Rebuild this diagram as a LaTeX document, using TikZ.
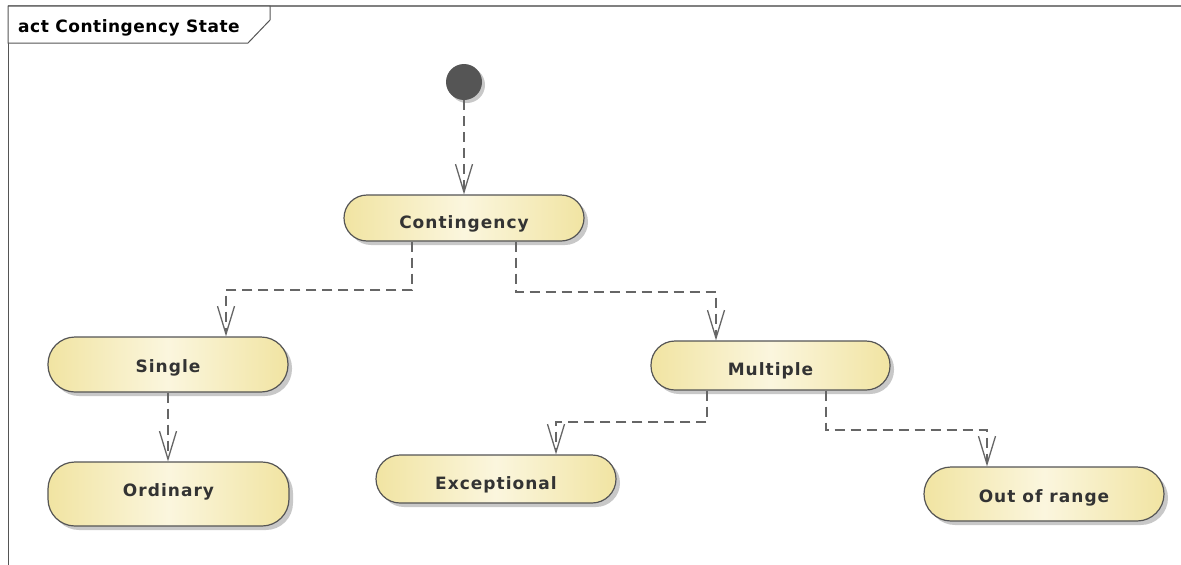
\documentclass[tikz,border=0pt]{standalone}
\usepackage{fontspec}
\setmainfont{DejaVu Sans}
\newfontfamily\lblfont{DejaVu Sans}[LetterSpace=6]
\newfontfamily\ttlfont{DejaVu Sans}[LetterSpace=3]
\usetikzlibrary{arrows.meta,calc}
\definecolor{edge}{HTML}{555555}
\definecolor{conncol}{HTML}{666666}
\definecolor{yedge}{HTML}{F1E4A2}
\definecolor{ymid}{HTML}{FBF6DE}
\definecolor{txt}{HTML}{333333}
\definecolor{shadowcol}{HTML}{C8C8C8}
\tikzset{
  state/.style={draw=edge, line width=1.2pt, rounded corners=23pt, inner sep=0pt,
    left color=yedge, right color=yedge, middle color=ymid,
    font=\lblfont\bfseries\fontsize{17}{19}\selectfont, text=txt,
    text height=12.4pt, text depth=0pt},
  conn/.style={draw=conncol, line width=1.3pt, dash pattern=on 10pt off 6pt,
    -{Straight Barb[length=28pt,width=17pt,line width=1.3pt]}},
}
\newcommand{\lowered}[2]{\raisebox{-#1pt}{#2}}
\newcommand{\shadowbox}[5]{% cx cy w h r
  \fill[shadowcol, rounded corners=#5] (#1-#3/2+4,#2-#4/2+4) rectangle (#1+#3/2+4,#2+#4/2+4);}
\begin{document}
\begin{tikzpicture}[x=1pt,y=-1pt]
\useasboundingbox (0,0) rectangle (1181,565);
\fill[white] (0,0) rectangle (1181,565);
% frame
\draw[color=gray, line width=1.6pt] (8,6) -- (1181,6);
\draw[color=edge, line width=1pt] (8,6) -- (8,565);
\draw[color=edge, line width=1pt, fill=white] (8,6) -- (270,6) -- (270,20) -- (248,43) -- (8,43) -- cycle;
\node[anchor=base west, inner sep=0pt, font=\ttlfont\bfseries\fontsize{17}{19}\selectfont, text=black] (title) at (18,32.5) {act Contingency State};
% shadows
\fill[shadowcol] (467,85) circle (18);
\shadowbox{464}{218}{240}{46}{23pt}
\shadowbox{168}{364.5}{240}{55}{27pt}
\shadowbox{168.5}{494}{241}{64}{27pt}
\shadowbox{770.5}{365.5}{239}{49}{24pt}
\shadowbox{496}{479}{240}{48}{24pt}
\shadowbox{1044}{494}{240}{54}{27pt}
% nodes
\node[circle, fill=edge, minimum size=36pt, inner sep=0pt] (start) at (464,82) {};
\node[state, minimum width=240pt, minimum height=46pt] (cont) at (464,218) {\lowered{4.5}{Contingency}};
\node[state, minimum width=240pt, minimum height=55pt, rounded corners=27pt] (single) at (168,364.5) {\lowered{1.5}{Single}};
\node[state, minimum width=241pt, minimum height=64pt, rounded corners=27pt] (ord) at (168.5,494) {\lowered{-3.7}{Ordinary}};
\node[state, minimum width=239pt, minimum height=49pt, rounded corners=24pt] (mult) at (770.5,365.5) {\lowered{3.8}{Multiple}};
\node[state, minimum width=240pt, minimum height=48pt, rounded corners=24pt] (exc) at (496,479) {\lowered{4.7}{Exceptional}};
\node[state, minimum width=240pt, minimum height=54pt, rounded corners=27pt] (oor) at (1044,494) {\lowered{2.3}{Out of range}};
% connectors
\draw[conn] (start.south) -- (cont.north);
\draw[conn] ([xshift=-52pt]cont.south) -- ([xshift=-52pt]cont.south |- 0,290) -| ([xshift=58pt]single.north);
\draw[conn] ([xshift=52pt]cont.south) -- ([xshift=52pt]cont.south |- 0,292) -| ([xshift=-54.5pt]mult.north);
\draw[conn] (single.south) -- (single.south |- ord.north);
\draw[conn] ([xshift=-63.5pt]mult.south) -- ([xshift=-63.5pt]mult.south |- 0,422) -| ([xshift=60pt]exc.north);
\draw[conn] ([xshift=55.5pt]mult.south) -- ([xshift=55.5pt]mult.south |- 0,430) -| ([xshift=-57pt]oor.north);
\end{tikzpicture}
\end{document}
